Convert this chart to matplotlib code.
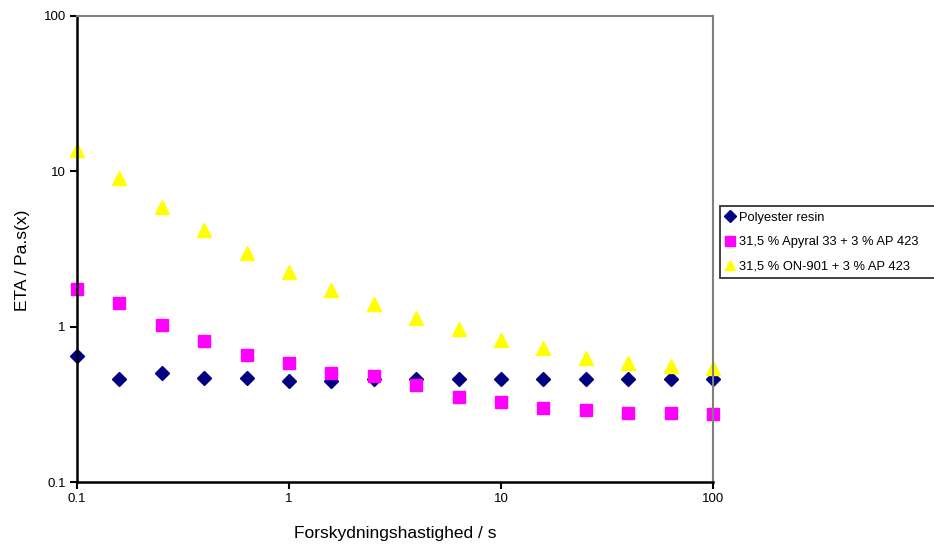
import matplotlib
matplotlib.use("Agg")
import matplotlib.pyplot as plt
from matplotlib.ticker import FixedLocator, FixedFormatter

plt.rcParams['font.family'] = ['Liberation Sans', 'DejaVu Sans']

# shear rate (1/s), 5 points per decade
shear_rate = [0.1, 0.158, 0.251, 0.398, 0.631, 1.0, 1.58, 2.51, 3.98, 6.31,
              10.0, 15.8, 25.1, 39.8, 63.1, 100.0]

# viscosity ETA (Pa.s)
eta_resin = [0.65, 0.46, 0.50, 0.47, 0.47, 0.45, 0.45, 0.46, 0.46, 0.46,
             0.46, 0.46, 0.46, 0.46, 0.46, 0.46]
eta_apyral = [1.75, 1.42, 1.03, 0.81, 0.66, 0.58, 0.50, 0.48, 0.42, 0.35,
              0.327, 0.30, 0.29, 0.28, 0.28, 0.276]
eta_on901 = [13.7, 9.0, 5.9, 4.2, 3.0, 2.26, 1.73, 1.39, 1.14, 0.97,
             0.82, 0.73, 0.63, 0.58, 0.56, 0.54]

labels = ["Polyester resin",
          "31,5 % Apyral 33 + 3 % AP 423",
          "31,5 % ON-901 + 3 % AP 423"]

xticks = [0.1, 1, 10, 100]
yticks = [0.1, 1, 10, 100]
tick_labels = ["0.1", "1", "10", "100"]

fig = plt.figure(figsize=(9.34, 5.46), dpi=100)
ax = fig.add_axes([0.0824, 0.1172, 0.681, 0.8535])

ax.plot(shear_rate, eta_resin, linestyle='none', marker='D', markersize=7.5,
        color='#000080', label=labels[0])
ax.plot(shear_rate, eta_apyral, linestyle='none', marker='s', markersize=9,
        color='#FF00FF', label=labels[1])
ax.plot(shear_rate, eta_on901, linestyle='none', marker='^', markersize=10,
        color='#FFFF00', label=labels[2])

ax.set_xscale('log')
ax.set_yscale('log')
ax.set_xlim(0.1, 100)
ax.set_ylim(0.1, 100)
ax.xaxis.set_major_locator(FixedLocator(xticks))
ax.xaxis.set_major_formatter(FixedFormatter(tick_labels))
ax.yaxis.set_major_locator(FixedLocator(yticks))
ax.yaxis.set_major_formatter(FixedFormatter(tick_labels))
ax.minorticks_off()
ax.tick_params(labelsize=9.5, length=5, width=1.5, color='black', pad=3)

for side in ['left', 'bottom']:
    ax.spines[side].set_color('black')
    ax.spines[side].set_linewidth(1.8)
for side in ['top', 'right']:
    ax.spines[side].set_color('#808080')
    ax.spines[side].set_linewidth(1.5)
for line in ax.lines:
    line.set_clip_on(False)

ax.set_xlabel("Forskydningshastighed / s", fontsize=12.5, labelpad=15)
ax.set_ylabel("ETA / Pa.s(x)", fontsize=12.5)
ax.yaxis.set_label_coords(-0.074, 0.476)

leg = ax.legend(loc='upper left',
                bbox_to_anchor=(720 / 934, 1 - 278 / 546, 230 / 934, 72 / 546),
                bbox_transform=fig.transFigure, mode='expand',
                fontsize=9.3, frameon=True, fancybox=False, shadow=False,
                handlelength=0.7, handletextpad=0.35, borderaxespad=0,
                borderpad=0.45, labelspacing=0.95, markerscale=0.75)
leg.get_frame().set_edgecolor('black')
leg.get_frame().set_linewidth(1.3)

fig.savefig('out.png', dpi=100)
